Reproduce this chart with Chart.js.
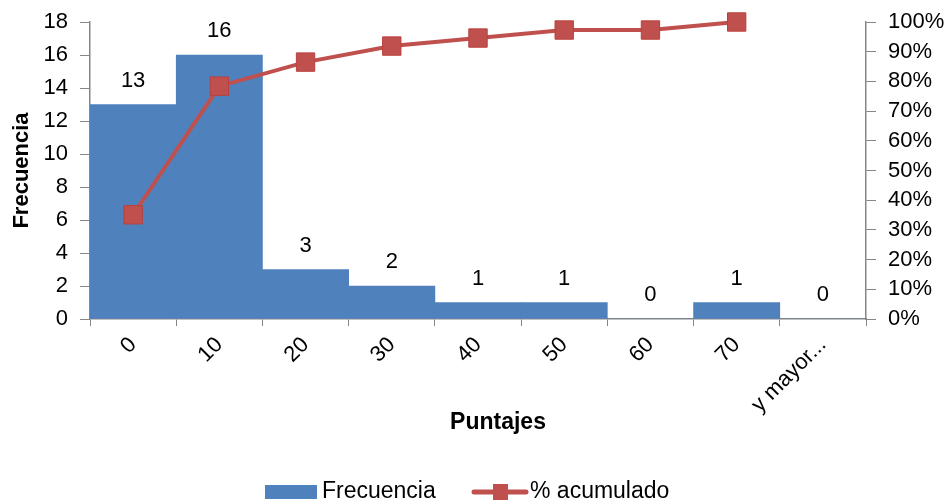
<!DOCTYPE html>
<html>
<head>
<meta charset="utf-8">
<script src="https://cdn.jsdelivr.net/npm/chart.js@4/dist/chart.umd.min.js"></script>
<style>
  html, body { margin: 0; padding: 0; background: #ffffff; }
  #wrap { width: 951px; height: 504px; position: relative; }
</style>
</head>
<body>
<div id="wrap"><canvas id="c" width="951" height="504"></canvas></div>
<script>
const categories = ['0', '10', '20', '30', '40', '50', '60', '70', 'y mayor...'];
const frecuencia = [13, 16, 3, 2, 1, 1, 0, 1, 0];
const acumulado = [35.1, 78.4, 86.5, 91.9, 94.6, 97.3, 97.3, 100, null];
const leftTicks = [0, 2, 4, 6, 8, 10, 12, 14, 16, 18];
const rightTicks = [0, 10, 20, 30, 40, 50, 60, 70, 80, 90, 100];
const xTitle = 'Puntajes';
const yTitle = 'Frecuencia';

const FONT = "'Liberation Sans', Arial, sans-serif";
const BLUE = '#4F81BD';
const RED = '#C0504D';
const AXIS = '#868686';

const barLabels = {
  id: 'barLabels',
  afterDatasetsDraw(chart) {
    const ctx = chart.ctx;
    const meta = chart.getDatasetMeta(1);
    ctx.save();
    ctx.font = '22px ' + FONT;
    ctx.fillStyle = '#000';
    ctx.textAlign = 'center';
    ctx.textBaseline = 'middle';
    meta.data.forEach((bar, i) => {
      ctx.fillText(String(frecuencia[i]), bar.x, bar.y - 24);
    });
    ctx.restore();
  }
};

const customLegend = {
  id: 'customLegend',
  afterDraw(chart) {
    const ctx = chart.ctx;
    const y = 492;
    ctx.save();
    // x axis title (offset to the right, as in the original)
    ctx.font = 'bold 23px ' + FONT;
    ctx.fillStyle = '#000';
    ctx.textAlign = 'center';
    ctx.textBaseline = 'alphabetic';
    ctx.fillText(xTitle, 498, 429);
    // legend
    ctx.font = '23px ' + FONT;
    ctx.textBaseline = 'middle';
    ctx.fillStyle = BLUE;
    ctx.fillRect(265, 485, 52, 14);
    ctx.fillStyle = '#000';
    ctx.textAlign = 'left';
    ctx.fillText('Frecuencia', 322, y);
    ctx.strokeStyle = RED;
    ctx.lineWidth = 5;
    ctx.lineCap = 'round';
    ctx.beginPath();
    ctx.moveTo(474, y);
    ctx.lineTo(526, y);
    ctx.stroke();
    ctx.fillStyle = RED;
    ctx.fillRect(493, y - 8, 15, 16);
    ctx.fillStyle = '#000';
    ctx.fillText('% acumulado', 530, y);
    ctx.restore();
  }
};

function fixVertical(scale, w) {
  scale.width = w;
  scale.paddingTop = 13;
  scale.paddingBottom = 13;
}

new Chart(document.getElementById('c'), {
  data: {
    labels: categories,
    datasets: [
      {
        type: 'line',
        label: '% acumulado',
        data: acumulado,
        yAxisID: 'y2',
        borderColor: RED,
        backgroundColor: RED,
        borderWidth: 4,
        pointStyle: 'rect',
        pointRadius: 13,
        pointHoverRadius: 13,
        pointBackgroundColor: RED,
        pointBorderColor: '#B9403D',
        pointBorderWidth: 1,
        tension: 0,
        spanGaps: false,
        clip: false,
        order: 0
      },
      {
        type: 'bar',
        label: 'Frecuencia',
        data: frecuencia,
        yAxisID: 'y',
        backgroundColor: BLUE,
        borderWidth: 0,
        barPercentage: 1.0,
        categoryPercentage: 1.0,
        order: 1
      }
    ]
  },
  options: {
    responsive: false,
    animation: false,
    layout: { autoPadding: false, padding: { left: 0, right: 0, top: 22, bottom: 69 } },
    plugins: {
      legend: { display: false },
      tooltip: { enabled: false }
    },
    scales: {
      x: {
        type: 'category',
        offset: true,
        grid: { display: true, drawOnChartArea: false, drawTicks: true, tickLength: 7, color: AXIS, offset: true },
        border: { display: true, color: AXIS, width: 1.5 },
        ticks: {
          color: '#000',
          font: { family: FONT, size: 22 },
          minRotation: 45,
          maxRotation: 45,
          autoSkip: false,
          padding: 6
        },
        title: { display: false },
        afterFit(scale) { scale.height = 116; }
      },
      y: {
        position: 'left',
        min: 0,
        max: 18,
        afterBuildTicks(scale) { scale.ticks = leftTicks.map(v => ({ value: v })); },
        grid: { display: true, drawOnChartArea: false, drawTicks: true, tickLength: 10, color: AXIS },
        border: { display: true, color: AXIS, width: 1.5 },
        ticks: {
          color: '#000',
          font: { family: FONT, size: 22 },
          padding: 12,
          autoSkip: false
        },
        title: {
          display: true,
          text: yTitle,
          color: '#000',
          font: { family: FONT, size: 22, weight: 'bold' },
          padding: { top: 9, bottom: 0 }
        },
        afterFit(scale) { fixVertical(scale, 90); }
      },
      y2: {
        position: 'right',
        min: 0,
        max: 100,
        afterBuildTicks(scale) { scale.ticks = rightTicks.map(v => ({ value: v })); },
        grid: { display: true, drawOnChartArea: false, drawTicks: true, tickLength: 10, color: AXIS },
        border: { display: true, color: AXIS, width: 1.5 },
        ticks: {
          color: '#000',
          font: { family: FONT, size: 22 },
          padding: 12,
          autoSkip: false,
          callback: (v) => v + '%'
        },
        afterFit(scale) { fixVertical(scale, 85); }
      }
    }
  },
  plugins: [barLabels, customLegend]
});
</script>
</body>
</html>
